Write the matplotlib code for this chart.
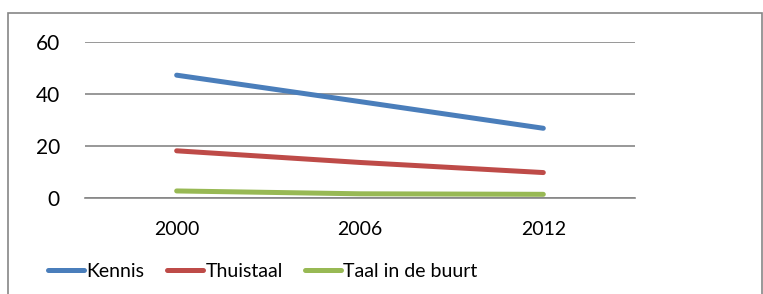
import matplotlib
matplotlib.use('Agg')
import matplotlib.pyplot as plt
from matplotlib.patches import Rectangle

# Dane
jaren = ['2000', '2006', '2012']
kennis = [47.3, 37.1, 26.8]
thuistaal = [18.1, 13.6, 9.7]
taal_buurt = [2.6, 1.5, 1.3]

plt.rcParams['font.family'] = ['Lato', 'DejaVu Sans']

fig = plt.figure(figsize=(7.63, 2.94), dpi=100)
ax = fig.add_axes([0.1114, 0.3276, 0.7208, 0.5286])

x = range(len(jaren))
ax.plot(x, kennis, color='#4A7EBB', lw=3.6, solid_capstyle='round', label='Kennis')
ax.plot(x, thuistaal, color='#BE4B48', lw=3.6, solid_capstyle='round', label='Thuistaal')
ax.plot(x, taal_buurt, color='#98B954', lw=3.6, solid_capstyle='round', label='Taal in de buurt')

ax.set_xlim(-0.5, len(jaren) - 0.5)
ax.set_ylim(0, 60)
ax.set_yticks([0, 20, 40, 60])
ax.set_xticks(list(x))
ax.set_xticklabels(jaren)
ax.grid(axis='y', color='#868686', lw=1.2)
ax.set_axisbelow(True)
for s in ['top', 'right', 'left']:
    ax.spines[s].set_visible(False)
ax.spines['bottom'].set_color('#868686')
ax.spines['bottom'].set_linewidth(1.2)
ax.tick_params(axis='y', length=0, pad=18, labelsize=15)
ax.tick_params(axis='x', length=0, pad=17, labelsize=14)

leg = ax.legend(loc='center', bbox_to_anchor=(263 / 763, 1 - 271.7 / 294),
                bbox_transform=fig.transFigure, ncol=3, frameon=False, fontsize=14,
                handlelength=1.85, handletextpad=0.12, columnspacing=1.15)
for h in leg.get_lines():
    h.set_solid_capstyle('round')

# ramka wykresu
fig.patches.append(Rectangle((8 / 763, -0.1), (762 - 8) / 763, (294 - 13) / 294 + 0.1,
                             transform=fig.transFigure, fill=False,
                             edgecolor='#868686', lw=1.2))

fig.savefig('out.png', dpi=100)
